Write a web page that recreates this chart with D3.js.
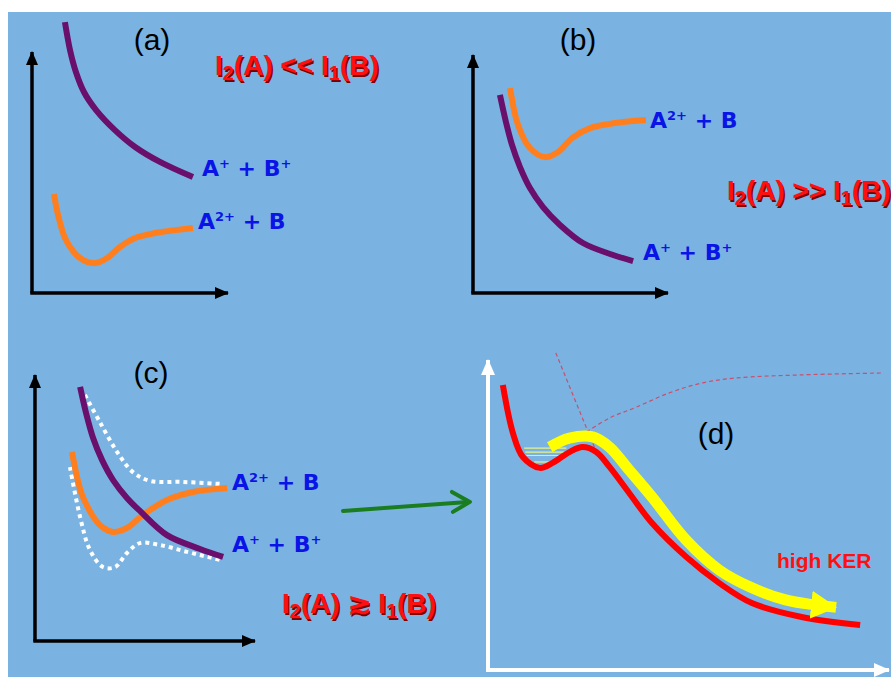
<!DOCTYPE html>
<html>
<head>
<meta charset="utf-8">
<script src="https://cdn.jsdelivr.net/npm/d3@7"></script>
<style>
  body { margin: 0; background: #fff; }
  svg { display: block; }
</style>
</head>
<body>
<svg id="chart"></svg>
<script>
// potential energy curves, (r, E) in arbitrary units 0..100 per panel
var aPurple = [[16.8,112.4],[19.4,100.8],[22.4,91.7],[26.5,83.4],[32.7,75.9],[42.3,67.6],[52.6,60.6],[65.3,54.4],[82.1,48.1]];
var aOrange = [[11.2,41.1],[13.3,32.4],[17.3,22.0],[24.5,14.5],[32.1,12.4],[38.3,14.5],[44.9,19.1],[52.6,22.8],[62.8,24.9],[73.0,26.1],[82.1,27.0]];

var bOrange = [[19.0,86.1],[23.1,70.6],[29.2,60.9],[36.9,57.1],[43.6,59.2],[50.8,65.1],[60.0,69.3],[72.8,71.4],[88.7,72.7]];
var bPurple = [[13.8,83.2],[16.9,71.8],[20.0,62.2],[24.1,52.9],[29.2,44.1],[35.9,36.1],[44.6,28.6],[56.4,21.0],[70.3,16.4],[82.1,13.4]];

var cPurple = [[20.5,95.5],[23.2,85.7],[26.4,76.3],[30.5,68.0],[35.5,60.5],[41.8,53.8],[47.7,48.9],[60.0,39.8],[75.0,34.6],[85.5,31.6]];
var cOrange = [[16.8,71.1],[19.1,61.7],[21.8,54.1],[29.5,43.6],[35.5,41.0],[41.8,42.5],[49.1,47.4],[60.0,53.0],[71.8,56.0],[87.3,57.5]];
var cUpper  = [[22.7,92.5],[29.5,82.3],[37.3,71.1],[44.5,63.5],[52.3,60.2],[67.3,59.8],[85.5,59.0]];
var cLower  = [[15.9,65.4],[20.5,46.6],[25.0,34.2],[30.9,27.8],[36.4,27.8],[41.8,33.1],[47.7,36.8],[56.8,36.1],[69.1,33.5],[84.1,30.5]];
var cArrow  = [[140,48.9],[197.7,52.3]];

var dRed    = [[3.7,91.9],[6.2,76.5],[8.7,68.7],[12.9,65.2],[16.1,66.8],[20.3,70.3],[23.6,71.9],[27.0,70.3],[30.3,65.5],[35.2,57.1],[40.9,47.4],[49.4,36.5],[57.6,28.1],[65.8,21.6],[78.2,17.1],[92.8,14.5]];
var dYellow = [[15.4,71.9],[20.3,74.8],[26.1,75.2],[30.3,71.9],[35.2,64.5],[40.9,55.8],[49.4,41.9],[57.6,32.3],[65.8,26.5],[74.2,22.6],[81.6,21.0],[86.8,20.2]];
var dDiab1  = [[16.9,102.3],[26.6,71.6]];
var dDiab2  = [[24.6,76.8],[30.3,81.3],[37.0,84.8],[45.2,89.4],[53.4,92.6],[61.8,94.2],[78.2,95.2],[98.0,95.8]];
var dLevels = [[71.6,9.0,19.5],[70.3,9.3,19.0],[69.2,9.6,18.5],[67.1,11.5,16.0]];

var panelNames = ["(a)","(b)","(c)","(d)"];
var labelA2B = [["A",""],["2+","sup"],[" + B",""]];
var labelAB  = [["A",""],["+","sup"],[" + B",""],["+","sup"]];

var W = 891, H = 677;
var svg = d3.select("#chart").attr("width", W).attr("height", H);

svg.append("rect").attr("x", 8).attr("y", 12).attr("width", W - 8).attr("height", H - 12).attr("fill", "#7AB3E1");

var defs = svg.append("defs");
function arrowMarker(id, color, len, wid) {
  defs.append("marker").attr("id", id)
    .attr("markerUnits", "userSpaceOnUse")
    .attr("viewBox", `0 0 ${len} ${wid}`)
    .attr("refX", len - 1).attr("refY", wid / 2)
    .attr("markerWidth", len).attr("markerHeight", wid)
    .attr("orient", "auto")
    .append("path").attr("d", `M0,0 L${len},${wid / 2} L0,${wid} Z`).attr("fill", color);
}
arrowMarker("blk", "#000", 14, 12);
arrowMarker("wht", "#fff", 16, 14);
arrowMarker("yel", "#ffff00", 26, 28);

// each panel: axis box in pixels
var panels = [
  { x0: 32, x1: 228, y0: 293, y1: 52, axis: "#000" },
  { x0: 473, x1: 668, y0: 293, y1: 55, axis: "#000" },
  { x0: 35, x1: 255, y0: 641, y1: 375, axis: "#000" },
  { x0: 488, x1: 889, y0: 670, y1: 360, axis: "#fff" }
];
panels.forEach(function(p) {
  p.x = d3.scaleLinear().domain([0, 100]).range([p.x0, p.x1]);
  p.y = d3.scaleLinear().domain([0, 100]).range([p.y0, p.y1]);
  p.line = d3.line().x(d => p.x(d[0])).y(d => p.y(d[1])).curve(d3.curveCatmullRom.alpha(0.5));
});

function drawAxes(p, i) {
  var g = svg.append("g");
  var m = i == 3 ? "url(#wht)" : "url(#blk)";
  var sw = i == 3 ? 4 : 3.5;
  g.append("line").attr("x1", p.x(0)).attr("y1", p.y(0)).attr("x2", p.x(0)).attr("y2", p.y(100))
    .attr("stroke", p.axis).attr("stroke-width", sw).attr("marker-end", m);
  g.append("line").attr("x1", p.x(0) - sw / 2).attr("y1", p.y(0)).attr("x2", p.x(100)).attr("y2", p.y(0))
    .attr("stroke", p.axis).attr("stroke-width", sw).attr("marker-end", m);
}
panels.forEach(drawAxes);

function curve(p, data, color, w, extra) {
  var path = svg.append("path").datum(data).attr("d", p.line)
    .attr("fill", "none").attr("stroke", color).attr("stroke-width", w)
    .attr("stroke-linecap", "butt").attr("stroke-linejoin", "round");
  if (extra) extra(path);
  return path;
}

var purple = "#6a0f6b", orange = "#ff7f1f";
curve(panels[0], aPurple, purple, 6);
curve(panels[0], aOrange, orange, 6);
curve(panels[1], bPurple, purple, 6);
curve(panels[1], bOrange, orange, 6);

var dots = p => p.attr("stroke-dasharray", "4 4");
curve(panels[2], cUpper, "#fff", 4, dots);
curve(panels[2], cLower, "#fff", 4, dots);
curve(panels[2], cOrange, orange, 6);
curve(panels[2], cPurple, purple, 6);

// green arrow between (c) and (d)
var pc = panels[2];
var ga = svg.append("g").attr("stroke", "#1a7d1f").attr("stroke-width", 4).attr("fill", "none").attr("stroke-linecap", "round");
ga.append("line").attr("x1", pc.x(cArrow[0][0])).attr("y1", pc.y(cArrow[0][1]))
  .attr("x2", pc.x(cArrow[1][0]) - 2).attr("y2", pc.y(cArrow[1][1]));
var tx = pc.x(cArrow[1][0]), ty = pc.y(cArrow[1][1]);
ga.append("path").attr("d", `M${tx - 18},${ty - 10} L${tx},${ty} L${tx - 17},${ty + 10}`).attr("stroke-linejoin", "round");

// panel (d)
var pd = panels[3];
curve(pd, dDiab1, "#c8506e", 1.2, p => p.attr("stroke-dasharray", "4 3"));
curve(pd, dDiab2, "#c8506e", 1.2, p => p.attr("stroke-dasharray", "4 3"));
svg.append("g").selectAll("line").data(dLevels).join("line")
  .attr("x1", d => pd.x(d[1])).attr("x2", d => pd.x(d[2]))
  .attr("y1", d => pd.y(d[0])).attr("y2", d => pd.y(d[0]))
  .attr("stroke", "#e6f08a").attr("stroke-width", 1.2);
curve(pd, dRed, "#ff0000", 6);
curve(pd, dYellow, "#ffff00", 11, p => p.attr("marker-end", "url(#yel)"));

// texts
var labelPos = [[152, 50], [578, 50], [151, 383], [716, 444]];
svg.append("g").selectAll("text").data(panelNames).join("text")
  .attr("x", (d, i) => labelPos[i][0]).attr("y", (d, i) => labelPos[i][1])
  .attr("text-anchor", "middle").attr("font-family", "Liberation Sans, Arial, sans-serif")
  .attr("font-size", 30).attr("fill", "#000").text(d => d);

function species(x, y, parts) {
  var t = svg.append("text").attr("x", x).attr("y", y)
    .attr("font-family", "DejaVu Sans, sans-serif").attr("font-weight", "bold")
    .attr("font-size", 22).attr("fill", "#0a14e6").attr("xml:space", "preserve");
  parts.forEach(function(s) {
    var ts = t.append("tspan").text(s[0]);
    if (s[1] == "sup") ts.attr("font-size", 13).attr("baseline-shift", "60%");
  });
}
species(202, 176, labelAB);
species(198, 229, labelA2B);
species(650, 128, labelA2B);
species(643, 260, labelAB);
species(232, 490, labelA2B);
species(232, 552, labelAB);

function relation(x, y, rel) {
  var parts = [["I",""],["2","sub"],["(A) " + rel + " I",""],["1","sub"],["(B)",""]];
  [["#7a0000", 1.5], ["#ff1010", 0]].forEach(function(c) {
    var t = svg.append("text").attr("x", x + c[1]).attr("y", y + c[1])
      .attr("font-family", "Liberation Sans, Arial, sans-serif").attr("font-weight", "bold")
      .attr("font-size", 28).attr("fill", c[0]).attr("xml:space", "preserve");
    parts.forEach(function(s) {
      var ts = t.append("tspan").text(s[0]);
      if (s[1] == "sub") ts.attr("font-size", 20).attr("baseline-shift", "-25%");
    });
  });
}
relation(215, 75, "<<");
relation(727, 200, ">>");
relation(282, 613, "\u2273");

svg.append("text").attr("x", 777).attr("y", 568)
  .attr("font-family", "Liberation Sans, Arial, sans-serif").attr("font-weight", "bold")
  .attr("font-size", 21).attr("fill", "#ff1010").text("high KER");
</script>
</body>
</html>
